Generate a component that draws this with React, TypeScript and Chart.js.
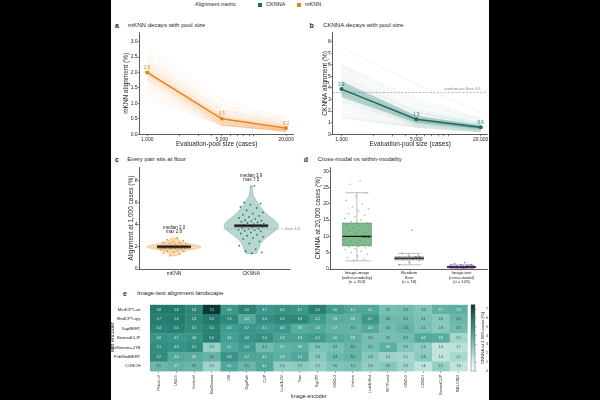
import React, { useEffect, useRef } from "react";
import { Chart, registerables } from "chart.js";

Chart.register(...registerables);

const FONT = "'Liberation Sans', Arial, Helvetica, sans-serif";
const INK = "#262626";
Chart.defaults.font.family = FONT;
Chart.defaults.color = INK;

// ---------------- data ----------------
const poolSizes = [1000, 5000, 20000];
const poolTickLabels = ["1,000", "5,000", "20,000"];
const poolAxisTicks = [1000, 2000, 3000, 4000, 5000, 6000, 7000, 8000, 9000, 10000, 20000];

const mknnAt1k = [2.8, 2.65, 2.55, 2.45, 2.4, 2.35, 2.3, 2.25, 2.22, 2.2, 2.18, 2.15, 2.12, 2.1, 2.08, 2.06, 2.05, 2.03, 2.02, 2.01, 2.0, 1.99, 1.98, 1.96, 1.95, 1.93, 1.92, 1.9, 1.88, 1.85, 1.82, 1.8, 1.78, 1.75, 1.7, 1.65, 1.6, 1.55, 1.45, 1.35, 1.2];
const mknnAt5k = [1.1, 0.95, 0.85, 0.8, 0.78, 0.75, 0.7, 0.68, 0.65, 0.62, 0.6, 0.58, 0.56, 0.55, 0.55, 0.52, 0.5, 0.48, 0.5, 0.45, 0.52, 0.47, 0.45, 0.42, 0.44, 0.4, 0.42, 0.38, 0.4, 0.37, 0.35, 0.38, 0.34, 0.33, 0.32, 0.31, 0.3, 0.3, 0.29, 0.28, 0.3];
const mknnAt20k = [0.5, 0.45, 0.4, 0.38, 0.35, 0.33, 0.3, 0.3, 0.28, 0.27, 0.25, 0.25, 0.24, 0.22, 0.22, 0.21, 0.2, 0.2, 0.2, 0.18, 0.2, 0.19, 0.18, 0.17, 0.17, 0.16, 0.16, 0.15, 0.15, 0.14, 0.14, 0.13, 0.13, 0.12, 0.12, 0.11, 0.1, 0.1, 0.1, 0.09, 0.1];
const mknnMean = [2.0, 0.5, 0.2];

const cknnaAt1k = [7.5, 6.0, 5.9, 5.8, 5.6, 5.5, 5.3, 5.1, 5.0, 4.9, 4.8, 4.7, 4.6, 4.5, 4.4, 4.35, 4.3, 4.25, 4.2, 4.15, 4.1, 4.05, 4.0, 3.95, 3.92, 3.9, 3.88, 3.85, 3.8, 3.75, 3.7, 3.65, 3.6, 3.55, 3.5, 3.45, 3.4, 3.3, 3.2, 3.1, 3.0, 2.9, 2.8, 2.7, 2.5, 2.3, 2.1, 1.8, 1.6, 1.5, 1.4];
const cknnaAt5k = [4.3, 3.0, 2.6, 2.8, 2.4, 2.2, 2.1, 2.0, 1.9, 1.8, 1.9, 1.7, 1.6, 1.5, 1.6, 1.5, 1.4, 1.45, 1.4, 1.3, 1.35, 1.3, 1.25, 1.3, 1.2, 1.3, 1.2, 1.25, 1.15, 1.2, 1.1, 1.15, 1.1, 1.05, 1.1, 1.0, 1.0, 0.95, 1.0, 0.9, 0.9, 0.85, 0.9, 0.8, 0.8, 0.75, 0.7, 0.7, 0.65, 0.6, 0.6];
const cknnaAt20k = [1.9, 1.4, 1.3, 1.2, 1.1, 1.0, 1.0, 0.9, 0.9, 0.85, 0.8, 0.8, 0.75, 0.7, 0.7, 0.7, 0.65, 0.65, 0.6, 0.6, 0.6, 0.6, 0.55, 0.6, 0.55, 0.6, 0.55, 0.5, 0.55, 0.5, 0.5, 0.5, 0.5, 0.45, 0.45, 0.45, 0.4, 0.4, 0.4, 0.4, 0.35, 0.35, 0.35, 0.3, 0.3, 0.3, 0.25, 0.25, 0.2, 0.2, 0.2];
const cknnaMean = [3.9, 1.3, 0.6];
const cknnaBandLow = [3.2, 1.0, 0.45];
const cknnaBandHigh = [4.6, 1.6, 0.8];
const randomInitFloor = 3.6;

const violinCategories = ["mKNN", "CKNNA"];

const boxCategories = [
  ["Image-image", "(within-modality)", "(n = 153)"],
  ["Random", "floor", "(n = 18)"],
  ["Image-text", "(cross-modal)", "(n = 126)"],
];
const imageImageAt20k = [27.0, 26.0, 23.3, 22.5, 21.0, 20.0, 19.0, 18.5, 17.8, 17.0, 16.5, 16.0, 15.5, 15.0, 14.5, 14.2, 14.0, 13.5, 13.0, 12.5, 12.2, 12.0, 11.6, 11.2, 11.0, 10.6, 10.4, 10.2, 10.0, 10.0, 9.8, 9.5, 9.2, 9.0, 8.8, 8.5, 8.2, 8.0, 7.8, 7.5, 7.3, 7.1, 7.0, 6.8, 6.5, 6.2, 6.0, 5.5, 5.0, 4.5, 4.0, 3.5, 3.0, 2.7, 2.5];
const randomFloorAt20k = [11.9, 4.8, 4.2, 3.9, 3.7, 3.6, 3.5, 3.4, 3.3, 3.3, 3.2, 3.1, 3.0, 2.9, 2.8, 2.6, 2.0, 1.3];
const imageTextAt20k = [2.0, 1.6, 1.4, 1.3, 1.2, 1.1, 1.0, 1.0, 0.95, 0.9, 0.9, 0.85, 0.85, 0.8, 0.8, 0.8, 0.75, 0.75, 0.7, 0.7, 0.7, 0.65, 0.65, 0.6, 0.6, 0.6, 0.6, 0.55, 0.55, 0.5, 0.5, 0.5, 0.45, 0.45, 0.4, 0.4, 0.4, 0.35, 0.35, 0.3, 0.3, 0.25, 0.2];
const boxQ1 = [7.1, 2.8, 0.4];
const boxMedian = [10.0, 3.3, 0.6];
const boxQ3 = [14.1, 3.7, 0.8];
const boxWhiskerLow = [2.5, 1.3, 0.2];
const boxWhiskerHigh = [23.4, 4.8, 1.3];

const imageEncoders = ["Phikon-v2", "UNI2-h", "Virchow2", "MedGemma", "UNI", "GigaPath", "CLIP", "LLaVA-OV", "Titan", "SigLIP2", "DINOv3", "Virchow", "LLaVA-Med", "RETFound", "DINOv2", "CONCH", "BiomedCLIP", "RAD-DINO"];
const textEncoders = ["MedCPT-art", "MedCPT-qry", "SapBERT", "BiomedCLIP", "MedGemma-27B", "PubMedBERT", "CONCH"];
const rowMedCPTArt = [5.8, 5.8, 5.3, 7.5, 4.6, 5.5, 4.7, 4.9, 4.7, 5.6, 4.5, 4.1, 4.1, 3.2, 3.3, 3.0, 3.7, 3.8];
const rowMedCPTQry = [5.7, 5.8, 5.3, 5.9, 5.3, 4.0, 5.0, 5.3, 5.3, 4.5, 3.9, 3.8, 4.7, 3.4, 3.4, 3.1, 2.8, 3.5];
const rowSapBERT = [5.4, 5.6, 5.1, 5.5, 4.5, 4.7, 4.5, 4.6, 3.9, 4.0, 3.7, 3.6, 4.0, 3.3, 3.6, 3.1, 2.8, 3.3];
const rowBiomedCLIP = [4.8, 4.7, 4.8, 5.6, 4.4, 4.8, 5.0, 4.3, 4.3, 4.5, 4.0, 3.8, 3.2, 3.2, 3.3, 4.0, 3.9, 2.2];
const rowMedGemma = [5.1, 4.9, 5.1, 2.5, 4.1, 4.5, 3.3, 3.7, 3.8, 3.0, 3.2, 3.6, 3.2, 3.8, 2.9, 2.6, 1.6, 1.7];
const rowPubMedBERT = [5.2, 4.0, 3.9, 3.6, 4.8, 4.2, 4.1, 3.8, 4.1, 2.8, 3.4, 3.6, 2.8, 2.3, 2.2, 2.8, 1.6, 2.1];
const rowCONCH = [3.5, 3.7, 3.5, 2.3, 4.1, 3.5, 4.1, 2.6, 2.7, 2.5, 3.0, 3.1, 2.6, 2.9, 2.3, 1.6, 2.5, 1.6];
const heatValues = [rowMedCPTArt, rowMedCPTQry, rowSapBERT, rowBiomedCLIP, rowMedGemma, rowPubMedBERT, rowCONCH];
const colorbarMax = 7.5;
const colorbarTicks = [0, 1, 2, 3, 4, 5, 6, 7];

// ---------------- style ----------------
const ORANGE = "#e8841c";
const TEAL = "#1b6b60";
const cmapStops: [number, number[]][] = [
  [0, [255, 255, 255]],
  [0.2, [197, 230, 224]],
  [0.4, [127, 196, 184]],
  [0.6, [63, 156, 142]],
  [0.8, [31, 118, 105]],
  [1, [10, 58, 52]],
];
function cmap(t: number) {
  t = Math.max(0, Math.min(1, t));
  for (let k = 1; k < cmapStops.length; k++) {
    const [t1, c1] = cmapStops[k];
    const [t0, c0] = cmapStops[k - 1];
    if (t <= t1) {
      const f = (t - t0) / (t1 - t0);
      const c = c0.map((v, i) => Math.round(v + (c1[i] - v) * f));
      return `rgb(${c[0]},${c[1]},${c[2]})`;
    }
  }
  return "rgb(10,58,52)";
}

const jitter = (i: number, spread: number) => ((((i + 1) * 0.6180339887) % 1) - 0.5) * 2 * spread;
const fixW = (w: number) => (s: any) => { s.width = w; };
const fixH = (h: number) => (s: any) => { s.height = h; };
const setTicks = (vals: number[]) => (s: any) => { s.ticks = vals.map((v) => ({ value: v })); };
const median = (a: number[]) => { const s = [...a].sort((x, y) => x - y); const n = s.length; return n % 2 ? s[(n - 1) / 2] : (s[n / 2 - 1] + s[n / 2]) / 2; };

const axisGrid = { display: true, drawOnChartArea: false, drawTicks: true, tickLength: 2, color: "#333", lineWidth: 0.6 };
const axisBorder = { display: true, color: "#333", width: 0.8 };
const tickFont = { size: 5 };
const titleFont = { size: 6.5 };
const baseOpts = {
  responsive: false,
  animation: false as const,
  devicePixelRatio: 1,
  events: [] as any[],
};
const noPlugins = { legend: { display: false }, tooltip: { enabled: false }, title: { display: false } };

function decayChart(canvas: HTMLCanvasElement, o: any) {
  const datasets: any[] = [];
  datasets.push({ data: poolSizes.map((x, j) => ({ x, y: o.mean[j] })), borderColor: o.color, backgroundColor: o.color, borderWidth: 1.5, pointRadius: 2, pointBorderWidth: 0, order: 0 });
  if (o.bandLow) {
    datasets.push({ data: poolSizes.map((x, j) => ({ x, y: o.bandLow[j] })), borderWidth: 0, borderColor: "rgba(0,0,0,0)", pointRadius: 0, fill: false, order: 1 });
    datasets.push({ data: poolSizes.map((x, j) => ({ x, y: o.bandHigh[j] })), borderWidth: 0, borderColor: "rgba(0,0,0,0)", pointRadius: 0, fill: "-1", backgroundColor: o.bandColor, order: 1 });
  }
  if (o.floor != null) {
    datasets.push({ data: [{ x: o.xMin, y: o.floor }, { x: o.xMax, y: o.floor }], borderColor: "#a5a5a5", borderDash: [2, 1.6], borderWidth: 0.8, pointRadius: 0, order: 1 });
  }
  o.v1k.forEach((v: number, i: number) => {
    datasets.push({ data: [{ x: 1000, y: v }, { x: 5000, y: o.v5k[i] }, { x: 20000, y: o.v20k[i] }], borderColor: o.faint, borderWidth: 0.6, pointRadius: 0, order: 3 });
  });
  const extras = {
    id: "decayExtras",
    afterDatasetsDraw(chart: any) {
      const { ctx } = chart;
      const meta = chart.getDatasetMeta(0);
      ctx.save();
      ctx.font = `4.5px ${FONT}`;
      ctx.fillStyle = o.color;
      ctx.textAlign = "center";
      ctx.textBaseline = "bottom";
      meta.data.forEach((pt: any, j: number) => ctx.fillText(o.mean[j].toFixed(1), pt.x, pt.y - 2.4));
      if (o.floor != null) {
        const y = chart.scales.y.getPixelForValue(o.floor);
        ctx.font = `4.1px ${FONT}`;
        ctx.fillStyle = "#8a8a8a";
        ctx.textAlign = "right";
        ctx.fillText(`random-init floor ${o.floor.toFixed(1)}`, chart.chartArea.right - 7, y - 1.5);
      }
      ctx.restore();
    },
  };
  return new Chart(canvas, {
    type: "line",
    data: { datasets },
    options: {
      ...baseOpts,
      layout: { padding: { left: o.padLeft, top: 4.3, right: o.padRight, bottom: 0 } },
      plugins: noPlugins,
      elements: { line: { tension: 0 } },
      scales: {
        x: {
          type: "logarithmic", min: o.xMin, max: o.xMax,
          afterBuildTicks: setTicks(poolAxisTicks),
          ticks: { autoSkip: false, maxRotation: 0, minRotation: 0, padding: 0, font: tickFont, color: INK,
            callback: (v: any) => { const k = poolSizes.indexOf(Number(v)); return k >= 0 ? poolTickLabels[k] : ""; } },
          grid: axisGrid, border: axisBorder,
          title: { display: true, text: "Evaluation-pool size (cases)", font: titleFont, padding: 0, color: INK },
          afterFit: fixH(13.7),
        },
        y: {
          type: "linear", min: 0, max: o.yMax,
          afterBuildTicks: setTicks(o.yTicks),
          ticks: { padding: 0, font: tickFont, color: INK, callback: (v: any) => o.yFmt(Number(v)) },
          grid: axisGrid, border: axisBorder,
          title: { display: true, text: o.yTitle, font: titleFont, padding: 0, color: INK },
          afterFit: fixW(o.yWidth),
        },
      },
    } as any,
    plugins: [extras],
  });
}

function kdeProfile(vals: number[], steps = 90) {
  const n = vals.length;
  const m = vals.reduce((a, b) => a + b, 0) / n;
  const sd = Math.sqrt(vals.reduce((a, b) => a + (b - m) ** 2, 0) / (n - 1));
  const h = sd * Math.pow(n, -0.2);
  const lo = Math.min(...vals), hi = Math.max(...vals);
  const ys: number[] = [], ds: number[] = [];
  for (let k = 0; k <= steps; k++) {
    const y = lo + ((hi - lo) * k) / steps;
    let d = 0;
    for (const v of vals) d += Math.exp(-0.5 * ((y - v) / h) ** 2);
    ys.push(y); ds.push(d);
  }
  const mx = Math.max(...ds);
  return { ys, ds: ds.map((d) => d / mx) };
}

function violinChart(canvas: HTMLCanvasElement) {
  const groups = [mknnAt1k, cknnaAt1k];
  const pointColors = ["rgba(232,128,28,0.85)", "rgba(24,100,90,0.85)"];
  const fills = ["rgba(246,186,120,0.55)", "rgba(125,182,172,0.55)"];
  const edges = ["rgba(236,160,80,0.7)", "rgba(100,160,150,0.7)"];
  const HALF = 0.35;
  const violins = {
    id: "violins",
    beforeDatasetsDraw(chart: any) {
      const { ctx, scales: { x, y } } = chart;
      ctx.save();
      groups.forEach((vals, g) => {
        const { ys, ds } = kdeProfile(vals);
        ctx.beginPath();
        ys.forEach((yy, k) => {
          const px = x.getPixelForValue(g + ds[k] * HALF), py = y.getPixelForValue(yy);
          k ? ctx.lineTo(px, py) : ctx.moveTo(px, py);
        });
        for (let k = ys.length - 1; k >= 0; k--) ctx.lineTo(x.getPixelForValue(g - ds[k] * HALF), y.getPixelForValue(ys[k]));
        ctx.closePath();
        ctx.fillStyle = fills[g];
        ctx.fill();
        ctx.strokeStyle = edges[g];
        ctx.lineWidth = 0.6;
        ctx.stroke();
      });
      ctx.restore();
    },
    afterDatasetsDraw(chart: any) {
      const { ctx, scales: { x, y } } = chart;
      ctx.save();
      // floor line
      const fy = y.getPixelForValue(randomInitFloor);
      ctx.setLineDash([2, 1.6]);
      ctx.strokeStyle = "#a5a5a5";
      ctx.lineWidth = 0.7;
      ctx.beginPath();
      ctx.moveTo(x.getPixelForValue(0.64), fy);
      ctx.lineTo(x.getPixelForValue(1.41), fy);
      ctx.stroke();
      ctx.setLineDash([]);
      ctx.font = `4.1px ${FONT}`;
      ctx.fillStyle = "#8a8a8a";
      ctx.textAlign = "left";
      ctx.textBaseline = "middle";
      ctx.fillText(`floor ${randomInitFloor.toFixed(1)}`, x.getPixelForValue(1.44), fy);
      groups.forEach((vals, g) => {
        const med = median(vals);
        const mx = Math.max(...vals);
        const my = y.getPixelForValue(med);
        const x0 = x.getPixelForValue(g - 0.22), x1 = x.getPixelForValue(g + 0.22);
        ctx.fillStyle = "rgba(70,70,70,0.85)";
        ctx.fillRect(x0, my - 1.6, x1 - x0, 3.2);
        ctx.strokeStyle = "#000";
        ctx.lineWidth = 1;
        ctx.beginPath(); ctx.moveTo(x0, my); ctx.lineTo(x1, my); ctx.stroke();
        ctx.font = `4.5px ${FONT}`;
        ctx.fillStyle = INK;
        ctx.textAlign = "center";
        ctx.textBaseline = "middle";
        const cx = x.getPixelForValue(g);
        ctx.fillText(`median ${med.toFixed(1)}`, cx, y.getPixelForValue(mx + 0.95));
        ctx.fillText(`max ${mx.toFixed(1)}`, cx, y.getPixelForValue(mx + 0.53));
      });
      ctx.restore();
    },
  };
  return new Chart(canvas, {
    type: "scatter",
    data: {
      datasets: groups.map((vals, g) => ({
        data: vals.map((v, i) => ({ x: g + jitter(i, 0.17), y: v })),
        pointRadius: 0.9, pointBorderWidth: 0, backgroundColor: pointColors[g],
      })),
    },
    options: {
      ...baseOpts,
      layout: { padding: { left: 16.1, top: 3.7, right: 10.4, bottom: 0 } },
      plugins: noPlugins,
      scales: {
        x: {
          type: "linear", min: -0.446, max: 1.51,
          afterBuildTicks: setTicks([0, 1]),
          ticks: { padding: 0, font: { size: 5 }, color: INK, callback: (v: any) => violinCategories[Number(v)] },
          grid: { ...axisGrid, tickLength: 1.5 }, border: axisBorder,
          afterFit: fixH(11),
        },
        y: {
          type: "linear", min: 0, max: 9.2,
          afterBuildTicks: setTicks([0, 2, 4, 6, 8]),
          ticks: { padding: 0, font: tickFont, color: INK },
          grid: axisGrid, border: axisBorder,
          title: { display: true, text: "Alignment at 1,000 cases (%)", font: titleFont, padding: 0, color: INK },
          afterFit: fixW(12.5),
        },
      },
    } as any,
    plugins: [violins],
  });
}

function boxChart(canvas: HTMLCanvasElement) {
  const groups = [imageImageAt20k, randomFloorAt20k, imageTextAt20k];
  const pointColors = ["rgba(70,150,90,0.6)", "rgba(120,120,120,0.7)", "rgba(128,60,170,0.85)"];
  const boxFills = ["rgba(86,163,104,0.75)", "rgba(236,236,236,0.9)", "rgba(190,150,215,0.8)"];
  const boxEdges = ["#4d8f5c", "#555", "#7a4a9a"];
  const BW = 0.275, CAP = 0.22;
  const boxes = {
    id: "boxes",
    beforeDatasetsDraw(chart: any) {
      const { ctx, scales: { x, y } } = chart;
      ctx.save();
      groups.forEach((_, g) => {
        const x0 = x.getPixelForValue(g - BW), x1 = x.getPixelForValue(g + BW), cx = x.getPixelForValue(g);
        const c0 = x.getPixelForValue(g - CAP), c1 = x.getPixelForValue(g + CAP);
        const yq1 = y.getPixelForValue(boxQ1[g]), yq3 = y.getPixelForValue(boxQ3[g]);
        const ylo = y.getPixelForValue(boxWhiskerLow[g]), yhi = y.getPixelForValue(boxWhiskerHigh[g]);
        ctx.strokeStyle = "#a0a0a0";
        ctx.lineWidth = 0.7;
        ctx.beginPath();
        ctx.moveTo(cx, yq3); ctx.lineTo(cx, yhi);
        ctx.moveTo(cx, yq1); ctx.lineTo(cx, ylo);
        ctx.moveTo(c0, yhi); ctx.lineTo(c1, yhi);
        ctx.moveTo(c0, ylo); ctx.lineTo(c1, ylo);
        ctx.stroke();
        ctx.fillStyle = boxFills[g];
        ctx.fillRect(x0, yq3, x1 - x0, yq1 - yq3);
        ctx.strokeStyle = boxEdges[g];
        ctx.lineWidth = 0.6;
        ctx.strokeRect(x0, yq3, x1 - x0, yq1 - yq3);
      });
      ctx.restore();
    },
    afterDatasetsDraw(chart: any) {
      const { ctx, scales: { x, y } } = chart;
      ctx.save();
      groups.forEach((_, g) => {
        const x0 = x.getPixelForValue(g - BW), x1 = x.getPixelForValue(g + BW);
        const my = y.getPixelForValue(boxMedian[g]);
        ctx.strokeStyle = "#111";
        ctx.lineWidth = 1.2;
        ctx.beginPath(); ctx.moveTo(x0, my); ctx.lineTo(x1, my); ctx.stroke();
        ctx.font = `4.2px ${FONT}`;
        ctx.fillStyle = g === 2 ? "#5a2a7a" : "#1e3a24";
        ctx.textAlign = "left";
        ctx.textBaseline = "middle";
        ctx.fillText(boxMedian[g].toFixed(1), x.getPixelForValue(g + 0.1), my);
      });
      ctx.restore();
    },
  };
  return new Chart(canvas, {
    type: "scatter",
    data: {
      datasets: groups.map((vals, g) => ({
        data: vals.map((v, i) => ({ x: g + jitter(i, 0.25), y: v })),
        pointRadius: 0.8, pointBorderWidth: 0, backgroundColor: pointColors[g],
      })),
    },
    options: {
      ...baseOpts,
      layout: { padding: { left: 9.6, top: 3.7, right: 7.4, bottom: 0 } },
      plugins: noPlugins,
      scales: {
        x: {
          type: "linear", min: -0.5, max: 2.5,
          afterBuildTicks: setTicks([0, 1, 2]),
          ticks: { padding: 0, font: { size: 4.2, lineHeight: 1.1 }, color: INK, callback: (v: any) => boxCategories[Number(v)] },
          grid: { ...axisGrid, tickLength: 1.5 }, border: axisBorder,
          afterFit: fixH(19),
        },
        y: {
          type: "linear", min: 0, max: 31.3,
          afterBuildTicks: setTicks([0, 5, 10, 15, 20, 25, 30]),
          ticks: { padding: 0, font: tickFont, color: INK },
          grid: axisGrid, border: axisBorder,
          title: { display: true, text: "CKNNA at 20,000 cases (%)", font: titleFont, padding: 0, color: INK },
          afterFit: fixW(16.2),
        },
      },
    } as any,
    plugins: [boxes],
  });
}

function heatChart(canvas: HTMLCanvasElement) {
  const data: any[] = [];
  heatValues.forEach((row, i) => row.forEach((v, j) => data.push({ x: imageEncoders[j], y: textEncoders[i], v })));
  const cells = {
    id: "cells",
    beforeDatasetsDraw(chart: any) {
      const { ctx, scales: { x, y, cb } } = chart;
      const cw = x.width / imageEncoders.length, ch = y.height / textEncoders.length;
      ctx.save();
      heatValues.forEach((row, i) => row.forEach((v, j) => {
        const cx = x.getPixelForValue(j), cy = y.getPixelForValue(i);
        ctx.fillStyle = cmap(v / colorbarMax);
        ctx.fillRect(cx - cw / 2, cy - ch / 2, cw + 0.4, ch + 0.4);
      }));
      ctx.font = `3px ${FONT}`;
      ctx.textAlign = "center";
      ctx.textBaseline = "middle";
      heatValues.forEach((row, i) => row.forEach((v, j) => {
        ctx.fillStyle = v >= 3.7 ? "rgba(255,255,255,0.92)" : "#333";
        ctx.fillText(v.toFixed(1), x.getPixelForValue(j), y.getPixelForValue(i) + 0.2);
      }));
      // colorbar
      const bx = cb.left + 3.7, bw = 4;
      const yTop = cb.getPixelForValue(colorbarMax), yBot = cb.getPixelForValue(0);
      const grad = ctx.createLinearGradient(0, yBot, 0, yTop);
      cmapStops.forEach(([t, c]) => grad.addColorStop(t, `rgb(${c[0]},${c[1]},${c[2]})`));
      ctx.fillStyle = grad;
      ctx.fillRect(bx, yTop, bw, yBot - yTop);
      ctx.strokeStyle = "#444";
      ctx.lineWidth = 0.4;
      ctx.strokeRect(bx, yTop, bw, yBot - yTop);
      ctx.beginPath();
      colorbarTicks.forEach((v) => {
        const ty = cb.getPixelForValue(v);
        ctx.moveTo(bx + bw, ty); ctx.lineTo(bx + bw + 1.5, ty);
      });
      ctx.stroke();
      ctx.translate(cb.left + 15.3, (yTop + yBot) / 2);
      ctx.rotate(-Math.PI / 2);
      ctx.font = `4.3px ${FONT}`;
      ctx.fillStyle = INK;
      ctx.fillText("CKNNA at 1,000 cases (%)", 0, 0);
      ctx.restore();
    },
  };
  return new Chart(canvas, {
    type: "scatter",
    data: { datasets: [{ data, pointRadius: 0 }] },
    options: {
      ...baseOpts,
      layout: { padding: { left: 4.6, top: 7, right: 0, bottom: 0 } },
      plugins: noPlugins,
      scales: {
        x: {
          type: "category", labels: imageEncoders, offset: true,
          grid: { display: true, drawOnChartArea: false, drawTicks: true, tickLength: 2, color: "#555", lineWidth: 0.5, offset: false },
          border: { display: false },
          ticks: { autoSkip: false, minRotation: 90, maxRotation: 90, padding: 2, font: { size: 3.5 }, color: INK },
          title: { display: true, text: "Image encoder", font: { size: 5.4 }, padding: 0, color: INK },
          afterFit: fixH(29),
        },
        y: {
          type: "category", labels: textEncoders, offset: true,
          grid: { display: false }, border: { display: false },
          ticks: { padding: 1.6, font: { size: 4.2 }, color: INK },
          title: { display: true, text: "Text encoder", font: { size: 5.4 }, padding: 0, color: INK },
          afterFit: fixW(40.4),
        },
        cb: {
          type: "linear", position: "right", min: 0, max: colorbarMax,
          afterBuildTicks: setTicks(colorbarTicks),
          grid: { display: false }, border: { display: false },
          ticks: { padding: 10.7, font: { size: 3.5 }, color: INK },
          afterFit: fixW(22.7),
        },
      },
    } as any,
    plugins: [cells],
  });
}

function Panel({ left, top, width, height, make }: { left: number; top: number; width: number; height: number; make: (c: HTMLCanvasElement) => Chart }) {
  const ref = useRef<HTMLCanvasElement>(null);
  useEffect(() => {
    const chart = make(ref.current!);
    return () => chart.destroy();
  }, []);
  return <canvas ref={ref} width={width} height={height} style={{ position: "absolute", left, top, width, height }} />;
}

function Txt({ x, y, size, bold, color = INK, middle, children }: any) {
  return (
    <div style={{ position: "absolute", left: x, top: y, transform: `translate(${middle ? "-50%" : "0"}, -50%)`, fontFamily: FONT, fontSize: size, fontWeight: bold ? 700 : 400, color, whiteSpace: "nowrap", lineHeight: 1 }}>
      {children}
    </div>
  );
}

export default function App() {
  return (
    <div style={{ position: "fixed", left: 0, top: 0, width: 600, height: 400, background: "#000", overflow: "hidden" }}>
      <div style={{ position: "absolute", left: 111, top: 0, width: 378, height: 400, background: "#fff" }} />
      {/* legend */}
      <Txt x={195} y={5} size={5.5}>Alignment metric</Txt>
      <div style={{ position: "absolute", left: 258, top: 3, width: 4, height: 4, background: TEAL }} />
      <Txt x={266} y={5} size={5.5}>CKNNA</Txt>
      <div style={{ position: "absolute", left: 297, top: 3, width: 4, height: 4, background: ORANGE }} />
      <Txt x={305} y={5} size={5.5}>mKNN</Txt>
      {/* panel headings */}
      <Txt x={117} y={25} size={7} bold middle>a</Txt>
      <Txt x={128} y={25} size={6.1}>mKNN decays with pool size</Txt>
      <Txt x={311.7} y={25} size={7} bold middle>b</Txt>
      <Txt x={323} y={25} size={6.1}>CKNNA decays with pool size</Txt>
      <Txt x={117} y={159.3} size={7} bold middle>c</Txt>
      <Txt x={127.3} y={159.3} size={6.1}>Every pair sits at floor</Txt>
      <Txt x={306} y={159.3} size={7} bold middle>d</Txt>
      <Txt x={317.4} y={159.3} size={6.1}>Cross-modal vs within-modality</Txt>
      <Txt x={125} y={293.3} size={7} bold middle>e</Txt>
      <Txt x={137} y={293.3} size={6.1}>Image-text alignment landscape</Txt>

      <Panel left={111} top={28} width={190} height={120} make={(c) => decayChart(c, {
        v1k: mknnAt1k, v5k: mknnAt5k, v20k: mknnAt20k, mean: mknnMean, color: ORANGE, faint: "rgba(236,140,45,0.2)",
        xMin: 849, xMax: 23600, yMax: 3.3, yTicks: [0, 0.5, 1, 1.5, 2, 2.5, 3], yFmt: (v: number) => v.toFixed(1),
        yTitle: "mKNN alignment (%)", padLeft: 11.1, padRight: 7.3, yWidth: 17.5,
      })} />
      <Panel left={305} top={28} width={190} height={120} make={(c) => decayChart(c, {
        v1k: cknnaAt1k, v5k: cknnaAt5k, v20k: cknnaAt20k, mean: cknnaMean, color: TEAL, faint: "rgba(60,130,120,0.14)",
        bandLow: cknnaBandLow, bandHigh: cknnaBandHigh, bandColor: "rgba(42,127,116,0.28)", floor: randomInitFloor,
        xMin: 828, xMax: 23200, yMax: 8.8, yTicks: [0, 1, 2, 3, 4, 5, 6, 7, 8], yFmt: (v: number) => String(v),
        yTitle: "CKNNA alignment (%)", padLeft: 16.1, padRight: 7.4, yWidth: 11.6,
      })} />
      <Panel left={111} top={163} width={190} height={117} make={violinChart} />
      <Panel left={305} top={163} width={190} height={125} make={boxChart} />
      <Panel left={105} top={292} width={385} height={108} make={heatChart} />
    </div>
  );
}
